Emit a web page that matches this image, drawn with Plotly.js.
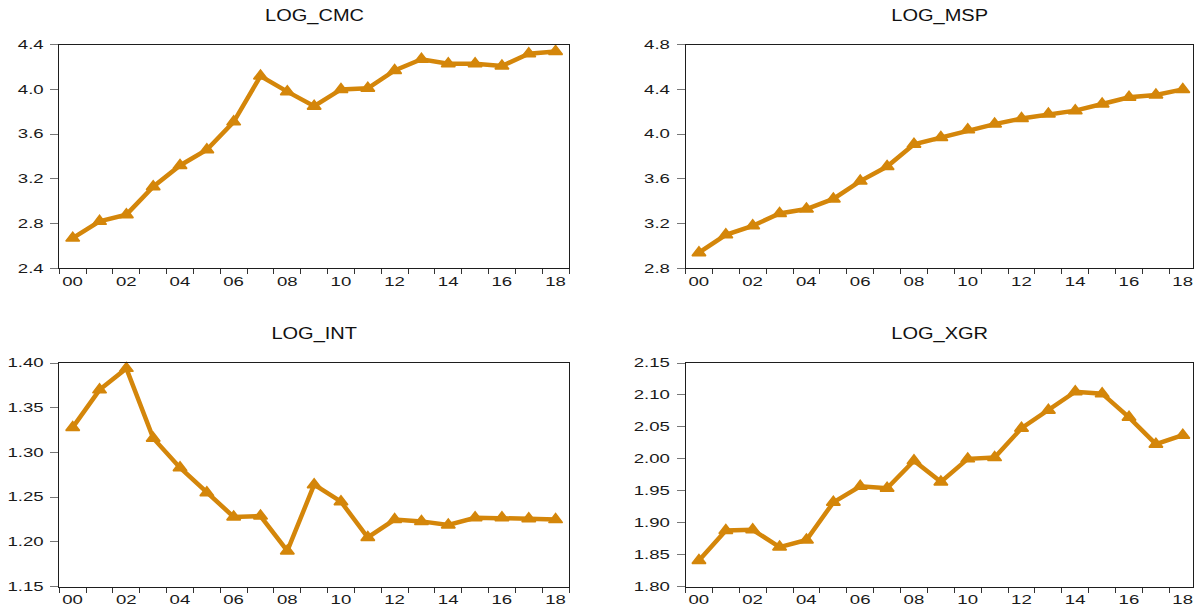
<!DOCTYPE html>
<html>
<head>
<meta charset="utf-8">
<script src="https://cdn.plot.ly/plotly-3.0.1.min.js"></script>
<style>
  html, body { margin: 0; padding: 0; background: #ffffff; }
  #chart { width: 1196px; height: 609px; }
</style>
</head>
<body>
<div id="chart"></div>
<script>
// ---- data ----
const years = ['00','01','02','03','04','05','06','07','08','09','10','11','12','13','14','15','16','17','18'];
const yearLabels = years.map((y, i) => (i % 2 === 0 ? y : ''));

const logCMC = [2.67, 2.82, 2.88, 3.13, 3.32, 3.46, 3.71, 4.12, 3.98, 3.85, 4.00, 4.01, 4.17, 4.27, 4.23, 4.23, 4.21, 4.32, 4.34];
const logMSP = [2.94, 3.10, 3.18, 3.29, 3.33, 3.42, 3.58, 3.71, 3.91, 3.97, 4.04, 4.09, 4.14, 4.18, 4.21, 4.27, 4.33, 4.35, 4.40];
const logINT = [1.328, 1.370, 1.394, 1.316, 1.283, 1.255, 1.228, 1.229, 1.190, 1.264, 1.245, 1.205, 1.225, 1.223, 1.219, 1.227, 1.227, 1.226, 1.225];
const logXGR = [1.841, 1.888, 1.889, 1.862, 1.873, 1.932, 1.957, 1.954, 1.997, 1.964, 2.000, 2.002, 2.048, 2.076, 2.105, 2.102, 2.065, 2.023, 2.037];

const titles = ['LOG_CMC', 'LOG_MSP', 'LOG_INT', 'LOG_XGR'];
const series = [logCMC, logMSP, logINT, logXGR];

// ---- style ----
const ORANGE = '#D4860A';
const FONT = 'Liberation Sans, Arial, sans-serif';
const TICK_SX = 1.55;
const TITLE_SX = 1.25;
const W = 1196, H = 609;

const xDomL = [59.3 / W, 569 / W];
const xDomR = [685.5 / W, 1193 / W];
const yDomT = [1 - 268.3 / H, 1 - 44.7 / H];
const yDomB = [1 - 586.7 / H, 1 - 363 / H];

const panels = [
  { xd: xDomL, yd: yDomT, xr: [-0.5, 18.5],  yr: [2.4, 4.4],   dt: 0.4,  fmt: '.1f' },
  { xd: xDomR, yd: yDomT, xr: [-0.5, 18.38], yr: [2.8, 4.8],   dt: 0.4,  fmt: '.1f' },
  { xd: xDomL, yd: yDomB, xr: [-0.5, 18.5],  yr: [1.15, 1.40], dt: 0.05, fmt: '.2f' },
  { xd: xDomR, yd: yDomB, xr: [-0.5, 18.38], yr: [1.80, 2.15], dt: 0.05, fmt: '.2f' }
];

const data = series.map((vals, i) => ({
  type: 'scatter',
  mode: 'lines+markers',
  x: years,
  y: vals,
  xaxis: i === 0 ? 'x' : 'x' + (i + 1),
  yaxis: i === 0 ? 'y' : 'y' + (i + 1),
  line: { color: ORANGE, width: 4.5 },
  marker: { symbol: 'triangle-up', size: 12, color: ORANGE, line: { color: ORANGE, width: 1.5 } },
  cliponaxis: false,
  showlegend: false,
  hoverinfo: 'x+y'
}));

const layout = {
  width: W, height: H,
  margin: { l: 0, r: 0, t: 0, b: 0, pad: 0 },
  paper_bgcolor: '#ffffff',
  plot_bgcolor: '#ffffff',
  showlegend: false,
  font: { family: FONT, size: 12, color: '#1a1a1a' },
  annotations: []
};

panels.forEach((p, i) => {
  const xk = i === 0 ? 'xaxis' : 'xaxis' + (i + 1);
  const yk = i === 0 ? 'yaxis' : 'yaxis' + (i + 1);
  const xa = i === 0 ? 'x' : 'x' + (i + 1);
  const ya = i === 0 ? 'y' : 'y' + (i + 1);
  layout[xk] = {
    domain: p.xd, anchor: ya, type: 'category',
    range: p.xr, fixedrange: true,
    tickmode: 'array', tickvals: years, ticktext: yearLabels,
    tickson: 'boundaries',
    ticks: 'outside', ticklen: 5, tickwidth: 1, tickcolor: '#333',
    showline: true, linecolor: '#1e1e1e', linewidth: 1, mirror: true,
    showgrid: false, zeroline: false,
    tickfont: { family: FONT, size: 12, color: '#1a1a1a' },
    ticklabelstandoff: 2
  };
  layout[yk] = {
    domain: p.yd, anchor: xa,
    range: p.yr, fixedrange: true,
    tick0: p.yr[0], dtick: p.dt, tickformat: p.fmt,
    ticks: 'outside', ticklen: 8, tickwidth: 1, tickcolor: '#777',
    showline: true, linecolor: '#1e1e1e', linewidth: 1, mirror: true,
    showgrid: false, zeroline: false,
    tickfont: { family: FONT, size: 12, color: '#1a1a1a' },
    ticklabelstandoff: 4
  };
  const cx = (p.xd[0] + p.xd[1]) / 2;
  const ty = i < 2 ? 1 - 16.3 / H : 1 - 333.5 / H;
  layout.annotations.push({
    text: titles[i], xref: 'paper', yref: 'paper',
    x: cx, y: ty, xanchor: 'center', yanchor: 'middle',
    showarrow: false,
    font: { family: FONT, size: 16, color: '#111111' }
  });
});

function stretchText(el, s) {
  const bb = el.getBBox();
  const anchor = el.getAttribute('text-anchor') || 'start';
  let ax = bb.x;
  if (anchor === 'middle') ax = bb.x + bb.width / 2;
  else if (anchor === 'end') ax = bb.x + bb.width;
  const tr = el.getAttribute('transform') || '';
  el.setAttribute('transform', tr + ' translate(' + ax + ',0) scale(' + s + ',1) translate(' + (-ax) + ',0)');
}

const gd = document.getElementById('chart');
Plotly.newPlot(gd, data, layout, { staticPlot: true, displayModeBar: false }).then(() => {
  gd.querySelectorAll('g.xaxislayer-above text, g.yaxislayer-above text').forEach(t => stretchText(t, TICK_SX));
  gd.querySelectorAll('.annotation-text').forEach(t => stretchText(t, TITLE_SX));
});
</script>
</body>
</html>
